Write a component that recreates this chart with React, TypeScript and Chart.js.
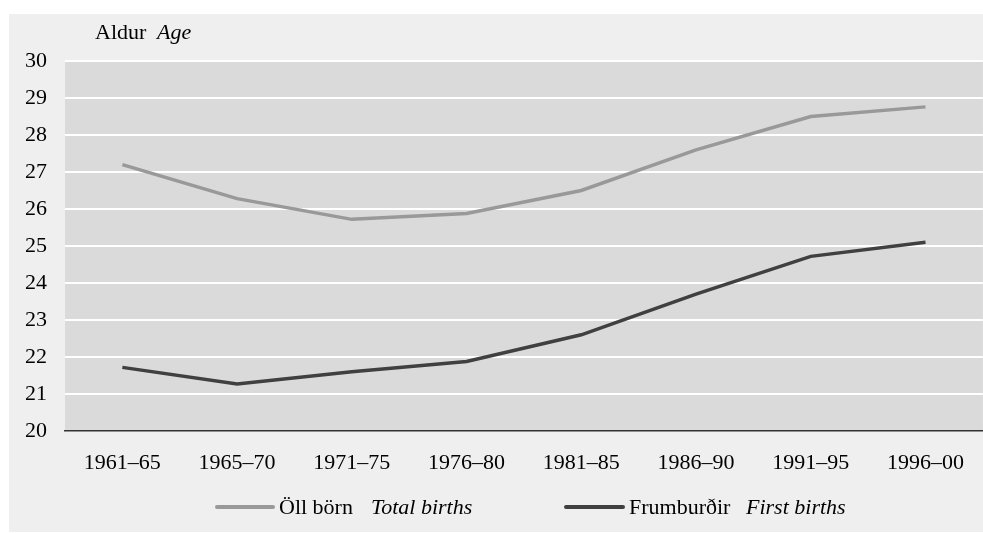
import React, { useEffect, useRef } from "react";
import { Chart, registerables } from "chart.js";

Chart.register(...registerables);

const categories = ["1961–65", "1965–70", "1971–75", "1976–80", "1981–85", "1986–90", "1991–95", "1996–00"];
const totalBirths = [27.2, 26.28, 25.72, 25.88, 26.5, 27.6, 28.5, 28.76];
const firstBirths = [21.72, 21.27, 21.6, 21.88, 22.6, 23.7, 24.72, 25.1];
const yTicks = [20, 21, 22, 23, 24, 25, 26, 27, 28, 29, 30];

const FONT = "'Liberation Serif', 'Times New Roman', serif";
const GRAY = "#999999";
const DARK = "#404040";

const decorPlugin = {
  id: "decor",
  beforeDraw(chart: any) {
    const { ctx, chartArea } = chart;
    ctx.save();
    ctx.fillStyle = "#dadada";
    ctx.fillRect(chartArea.left, chartArea.top, chartArea.right - chartArea.left, chartArea.bottom - chartArea.top);
    ctx.restore();
  },
  afterDraw(chart: any) {
    const { ctx } = chart;
    ctx.save();
    ctx.fillStyle = "#000";
    ctx.textBaseline = "alphabetic";
    ctx.textAlign = "left";
    // axis title
    ctx.font = `22px ${FONT}`;
    ctx.fillText("Aldur", 86, 24.5);
    ctx.font = `italic 22px ${FONT}`;
    ctx.fillText("Age", 148, 24.5);

    // legend
    const lineY = 493;
    const textY = 499.5;
    ctx.lineCap = "round";
    ctx.lineWidth = 4;
    ctx.strokeStyle = GRAY;
    ctx.beginPath();
    ctx.moveTo(208, lineY);
    ctx.lineTo(264, lineY);
    ctx.stroke();
    ctx.fillStyle = "#000";
    ctx.font = `22px ${FONT}`;
    ctx.fillText("Öll börn", 270, textY);
    ctx.font = `italic 22px ${FONT}`;
    ctx.fillText("Total births", 362, textY);

    ctx.strokeStyle = DARK;
    ctx.beginPath();
    ctx.moveTo(557, lineY);
    ctx.lineTo(614, lineY);
    ctx.stroke();
    ctx.font = `22px ${FONT}`;
    ctx.fillText("Frumburðir", 620, textY);
    ctx.font = `italic 22px ${FONT}`;
    ctx.fillText("First births", 737, textY);
    ctx.restore();
  },
};

export default function App() {
  const ref = useRef<HTMLCanvasElement | null>(null);

  useEffect(() => {
    if (!ref.current) return;
    const chart = new Chart(ref.current, {
      type: "line",
      data: {
        labels: categories,
        datasets: [
          {
            label: "Öll börn Total births",
            data: totalBirths,
            borderColor: GRAY,
            backgroundColor: GRAY,
            borderWidth: 3.5,
            pointRadius: 0,
            tension: 0,
          },
          {
            label: "Frumburðir First births",
            data: firstBirths,
            borderColor: DARK,
            backgroundColor: DARK,
            borderWidth: 3.5,
            pointRadius: 0,
            tension: 0,
          },
        ],
      },
      options: {
        animation: false,
        responsive: true,
        maintainAspectRatio: false,
        layout: { padding: { top: 47, bottom: 41, left: 0, right: 0 } },
        plugins: {
          legend: { display: false },
          tooltip: { enabled: false },
          title: { display: false },
        },
        scales: {
          x: {
            type: "category",
            offset: true,
            grid: { display: false, drawTicks: false },
            border: { display: true, color: "#333333", width: 1.5 },
            ticks: {
              color: "#000",
              font: { family: FONT, size: 22 },
              padding: 19,
              maxRotation: 0,
              autoSkip: false,
            },
            afterFit(scale: any) {
              scale.height = 60;
            },
          },
          y: {
            min: 20,
            max: 30,
            afterBuildTicks(scale: any) {
              scale.ticks = yTicks.map((v) => ({ value: v }));
            },
            grid: {
              drawTicks: false,
              color: (c: any) => (c.tick && c.tick.value === 20 ? "rgba(0,0,0,0)" : "#ffffff"),
              lineWidth: 2,
            },
            border: { display: false },
            ticks: {
              color: "#000",
              font: { family: FONT, size: 22 },
              padding: 18,
            },
            afterFit(scale: any) {
              scale.width = 56;
            },
          },
        },
      },
      plugins: [decorPlugin],
    });
    return () => chart.destroy();
  }, []);

  return (
    <div
      style={{
        position: "absolute",
        left: 9,
        top: 14,
        width: 974,
        height: 518,
        background: "#efefef",
      }}
    >
      <canvas ref={ref} />
    </div>
  );
}
